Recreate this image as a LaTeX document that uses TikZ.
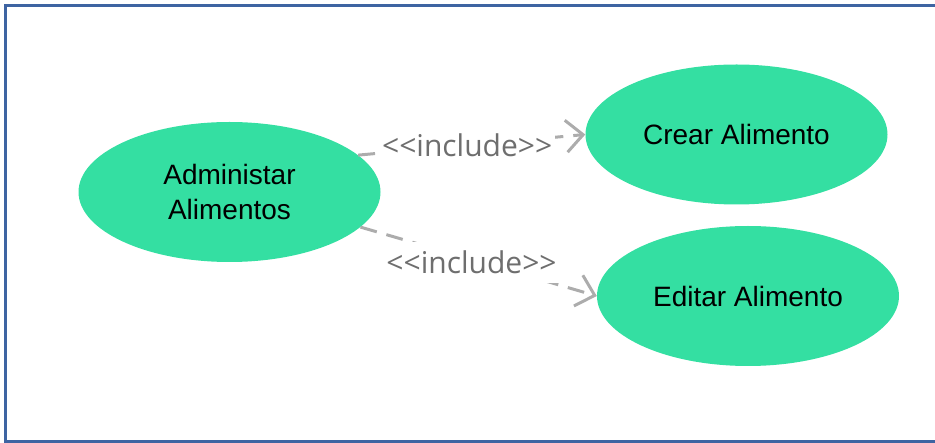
\documentclass[tikz,border=0pt]{standalone}
\usepackage{fontspec}
\setmainfont{Liberation Sans}
\newfontfamily\labelfont{Open Sans}
\usetikzlibrary{shapes.geometric,arrows.meta}

\definecolor{usecase}{RGB}{52,223,162}
\definecolor{framecol}{RGB}{62,100,162}
\definecolor{linkgray}{RGB}{172,172,172}
\definecolor{labelgray}{RGB}{110,110,110}

\tikzset{
  usecasebox/.style={ellipse, fill=usecase, draw=none, inner sep=0pt,
    minimum width=302pt, minimum height=140pt, align=center,
    font=\fontsize{28}{35}\selectfont},
  includelink/.style={draw=linkgray, line width=3pt,
    dash pattern=on 17pt off 10pt,
    -{Straight Barb[length=17pt,width=32pt,line width=3pt]}},
  includelabel/.style={fill=white, inner xsep=3pt, inner ysep=9pt,
    text=labelgray, font=\labelfont\fontsize{30}{34}\selectfont}
}

\begin{document}
\begin{tikzpicture}[x=1pt, y=-1pt]
  \useasboundingbox (0,0) rectangle (935,443);

  % system boundary (open to the right)
  \draw[framecol, line width=3pt] (945,5.5) -- (5.5,5.5) -- (5.5,441.5) -- (945,441.5);

  % use cases
  \node[usecasebox] (admin)  at (229.5,192) {Administar\\Alimentos};
  \node[usecasebox] (crear)  at (736.5,134.5) {Crear Alimento};
  \node[usecasebox] (editar) at (748,296) {Editar Alimento};

  % include relations
  \draw[includelink] (admin.16) -- node[includelabel, pos=0.48] {<<include>>} (crear.west);
  \draw[includelink] (admin.-15) -- node[includelabel, pos=0.47, yshift=-3pt] {<<include>>} (editar.west);
\end{tikzpicture}
\end{document}
